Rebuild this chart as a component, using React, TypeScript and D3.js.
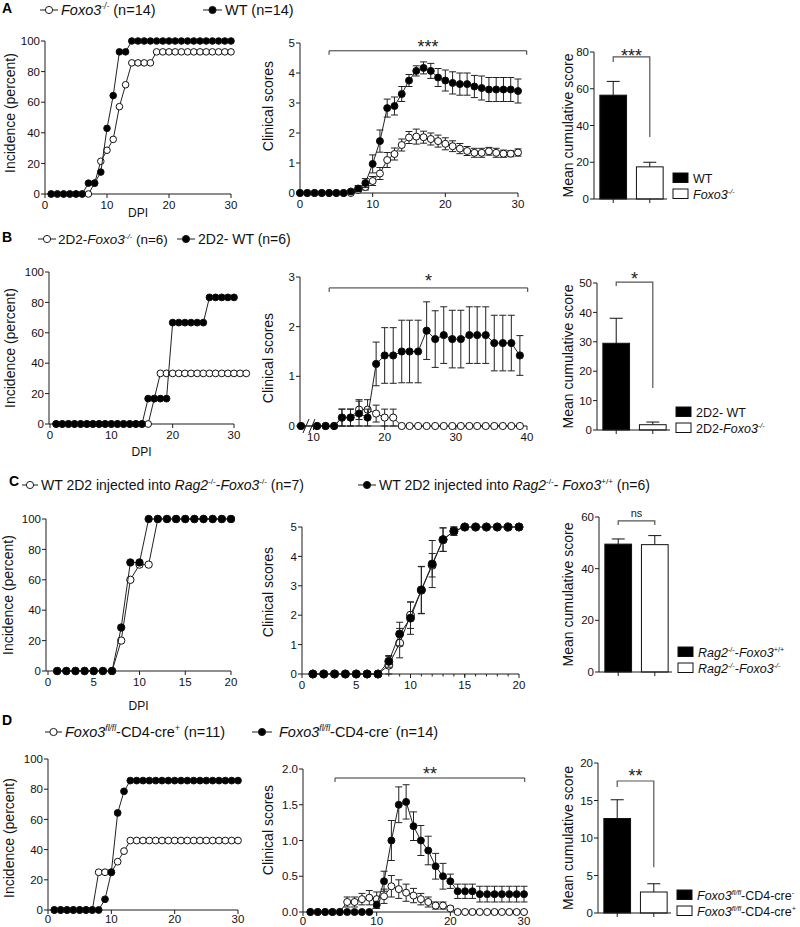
import React from "react";
import * as d3 from "d3";

const FONT = "'Liberation Sans', Arial, Helvetica, sans-serif";
const INK = "#1c1c1c";

// ---------- row A: Foxo3-/- vs WT ----------
const incDaysA = d3.range(1, 31);
const incA_Foxo3 = [0, 0, 0, 0, 0, 0, 0, 7.1, 21.4, 28.6, 35.7, 57.1, 71.4, 85.7, 85.7, 85.7, 85.7, 92.9, 92.9, 92.9, 92.9, 92.9, 92.9, 92.9, 92.9, 92.9, 92.9, 92.9, 92.9, 92.9];
const incA_WT = [0, 0, 0, 0, 0, 0, 7.1, 7.1, 14.3, 42.9, 64.3, 92.9, 92.9, 100, 100, 100, 100, 100, 100, 100, 100, 100, 100, 100, 100, 100, 100, 100, 100, 100];
const scoreDaysA = d3.range(0, 31);
const scoreA_WT = [0, 0, 0, 0, 0, 0, 0, 0.05, 0.15, 0.33, 0.97, 1.73, 2.83, 2.9, 3.3, 3.75, 4.07, 4.17, 4.07, 3.85, 3.75, 3.67, 3.63, 3.63, 3.55, 3.5, 3.45, 3.45, 3.45, 3.45, 3.4];
const semA_WT = [0, 0, 0, 0, 0, 0, 0, 0.05, 0.1, 0.15, 0.3, 0.37, 0.3, 0.3, 0.25, 0.2, 0.17, 0.2, 0.25, 0.3, 0.35, 0.37, 0.37, 0.37, 0.37, 0.4, 0.4, 0.4, 0.4, 0.4, 0.4];
const scoreA_Foxo3 = [0, 0, 0, 0, 0, 0, 0, 0, 0.1, 0.2, 0.4, 0.65, 1.1, 1.3, 1.6, 1.85, 1.88, 1.86, 1.8, 1.73, 1.64, 1.56, 1.48, 1.4, 1.34, 1.34, 1.39, 1.34, 1.31, 1.31, 1.35];
const semA_Foxo3 = [0, 0, 0, 0, 0, 0, 0, 0, 0.05, 0.1, 0.15, 0.2, 0.25, 0.2, 0.2, 0.2, 0.25, 0.2, 0.2, 0.2, 0.2, 0.18, 0.17, 0.15, 0.15, 0.15, 0.13, 0.15, 0.12, 0.1, 0.12];
const cumCatsA = ["WT", "Foxo3"];
const cumA = [56.5, 17.5];
const cumSemA = [7.5, 2.5];

// ---------- row B: 2D2 ----------
const incDaysB_WT = d3.range(1, 31);
const incB_WT = [0, 0, 0, 0, 0, 0, 0, 0, 0, 0, 0, 0, 0, 0, 0, 16.7, 16.7, 16.7, 16.7, 66.7, 66.7, 66.7, 66.7, 66.7, 66.7, 83.3, 83.3, 83.3, 83.3, 83.3];
const incDaysB_Foxo3 = d3.range(1, 33);
const incB_Foxo3 = [0, 0, 0, 0, 0, 0, 0, 0, 0, 0, 0, 0, 0, 0, 0, 0, 16.7, 33.3, 33.3, 33.3, 33.3, 33.3, 33.3, 33.3, 33.3, 33.3, 33.3, 33.3, 33.3, 33.3, 33.3, 33.3];
const scoreDaysB = [0, 10.5, 11.7, 12.9, 14.0, 15.2, 16.4, 17.6, 18.8, 20.0, 21.2, 22.4, 23.5, 24.7, 25.9, 27.1, 28.3, 29.5, 30.7, 31.9, 33.0, 34.2, 35.4, 36.6, 37.8, 39.0];
const scoreB_WT = [0, 0, 0, 0, 0.17, 0.17, 0.25, 0.17, 1.25, 1.42, 1.42, 1.5, 1.5, 1.5, 1.92, 1.75, 1.83, 1.75, 1.75, 1.83, 1.83, 1.83, 1.67, 1.67, 1.67, 1.42];
const semB_WT = [0, 0, 0, 0, 0.17, 0.17, 0.25, 0.17, 0.44, 0.56, 0.56, 0.63, 0.63, 0.63, 0.58, 0.57, 0.57, 0.58, 0.58, 0.57, 0.57, 0.57, 0.56, 0.56, 0.56, 0.4];
const scoreB_Foxo3 = [0, 0, 0, 0, 0.17, 0.17, 0.33, 0.33, 0.25, 0.17, 0.17, 0, 0, 0, 0, 0, 0, 0, 0, 0, 0, 0, 0, 0, 0, 0];
const semB_Foxo3 = [0, 0, 0, 0, 0.17, 0.17, 0.2, 0.2, 0.17, 0.17, 0.17, 0, 0, 0, 0, 0, 0, 0, 0, 0, 0, 0, 0, 0, 0, 0];
const cumCatsB = ["2D2- WT", "2D2-Foxo3"];
const cumB = [29.5, 1.8];
const cumSemB = [8.5, 0.9];

// ---------- row C: Rag2 transfer ----------
const incDaysC = d3.range(1, 21);
const incC_KO = [0, 0, 0, 0, 0, 0, 0, 20, 60, 70, 70, 100, 100, 100, 100, 100, 100, 100, 100, 100];
const incC_WT = [0, 0, 0, 0, 0, 0, 0, 28.6, 71.4, 71.4, 100, 100, 100, 100, 100, 100, 100, 100, 100, 100];
const scoreDaysC = d3.range(1, 21);
const scoreC_WT = [0, 0, 0, 0, 0, 0, 0, 0.43, 1.36, 1.9, 2.86, 3.74, 4.57, 4.86, 5, 5, 5, 5, 5, 5];
const semC_WT = [0, 0, 0, 0, 0, 0, 0, 0.2, 0.4, 0.55, 0.8, 0.8, 0.4, 0.14, 0, 0, 0, 0, 0, 0];
const scoreC_KO = [0, 0, 0, 0, 0, 0, 0, 0.3, 1.05, 2.0, 2.85, 3.7, 4.57, 4.86, 5, 5, 5, 5, 5, 5];
const semC_KO = [0, 0, 0, 0, 0, 0, 0, 0.3, 0.5, 0.45, 0.8, 0.4, 0.4, 0.14, 0, 0, 0, 0, 0, 0];
const cumCatsC = ["Foxo3+/+", "Foxo3-/-"];
const cumC = [49.5, 49.3];
const cumSemC = [2, 3.5];

// ---------- row D: CD4-cre ----------
const incDaysD = d3.range(1, 31);
const incD_pos = [0, 0, 0, 0, 0, 0, 0, 25, 25, 25, 32, 39, 46, 46, 46, 46, 46, 46, 46, 46, 46, 46, 46, 46, 46, 46, 46, 46, 46, 46];
const incD_neg = [0, 0, 0, 0, 0, 0, 0, 0, 7.1, 25, 64.3, 78.6, 85.7, 85.7, 85.7, 85.7, 85.7, 85.7, 85.7, 85.7, 85.7, 85.7, 85.7, 85.7, 85.7, 85.7, 85.7, 85.7, 85.7, 85.7];
const scoreDaysD = d3.range(1, 31);
const scoreD_neg = [0, 0, 0, 0, 0, 0, 0, 0, 0, 0.1, 0.43, 1.0, 1.5, 1.54, 1.2, 1.0, 0.86, 0.64, 0.5, 0.43, 0.29, 0.29, 0.29, 0.25, 0.25, 0.25, 0.25, 0.25, 0.25, 0.25];
const semD_neg = [0, 0, 0, 0, 0, 0, 0, 0, 0, 0.05, 0.14, 0.28, 0.25, 0.24, 0.2, 0.21, 0.2, 0.18, 0.18, 0.1, 0.1, 0.1, 0.1, 0.11, 0.11, 0.11, 0.11, 0.11, 0.11, 0.11];
const scoreD_pos = [0, 0, 0, 0, 0, 0.14, 0.14, 0.18, 0.2, 0.18, 0.22, 0.36, 0.32, 0.27, 0.23, 0.18, 0.14, 0.09, 0.09, 0.05, 0, 0, 0, 0, 0, 0, 0, 0, 0, 0];
const semD_pos = [0, 0, 0, 0, 0, 0.07, 0.07, 0.08, 0.1, 0.1, 0.1, 0.15, 0.13, 0.12, 0.1, 0.08, 0.07, 0.05, 0.05, 0.03, 0, 0, 0, 0, 0, 0, 0, 0, 0, 0];
const cumCatsD = ["cre-", "cre+"];
const cumD = [12.6, 2.8];
const cumSemD = [2.5, 1.1];

// ---------- text ----------
type Seg = { t: string; it?: boolean; sup?: boolean };
const legA_open: Seg[] = [{ t: "Foxo3", it: true }, { t: "-/-", sup: true, it: true }, { t: " (n=14)" }];
const legA_fill: Seg[] = [{ t: "WT (n=14)" }];
const legB_open: Seg[] = [{ t: "2D2-" }, { t: "Foxo3", it: true }, { t: "-/-", sup: true, it: true }, { t: " (n=6)" }];
const legB_fill: Seg[] = [{ t: "2D2- WT (n=6)" }];
const legC_open: Seg[] = [{ t: "WT 2D2 injected into " }, { t: "Rag2", it: true }, { t: "-/-", sup: true }, { t: "-" }, { t: "Foxo3", it: true }, { t: "-/-", sup: true }, { t: " (n=7)" }];
const legC_fill: Seg[] = [{ t: "WT 2D2 injected into " }, { t: "Rag2", it: true }, { t: "-/-", sup: true }, { t: "- " }, { t: "Foxo3", it: true }, { t: "+/+", sup: true }, { t: " (n=6)" }];
const legD_open: Seg[] = [{ t: "Foxo3", it: true }, { t: "fl/fl", sup: true, it: true }, { t: "-CD4-cre" }, { t: "+", sup: true }, { t: " (n=11)" }];
const legD_fill: Seg[] = [{ t: "Foxo3", it: true }, { t: "fl/fl", sup: true, it: true }, { t: "-CD4-cre" }, { t: "-", sup: true }, { t: " (n=14)" }];
const barLegA: Seg[][] = [[{ t: "WT" }], [{ t: "Foxo3", it: true }, { t: "-/-", sup: true, it: true }]];
const barLegB: Seg[][] = [[{ t: "2D2- WT" }], [{ t: "2D2-" }, { t: "Foxo3", it: true }, { t: "-/-", sup: true, it: true }]];
const barLegC: Seg[][] = [
  [{ t: "Rag2", it: true }, { t: "-/-", sup: true }, { t: "-" }, { t: "Foxo3", it: true }, { t: "+/+", sup: true }],
  [{ t: "Rag2", it: true }, { t: "-/-", sup: true, it: true }, { t: "-Foxo3", it: true }, { t: "-/-", sup: true, it: true }],
];
const barLegD: Seg[][] = [
  [{ t: "Foxo3", it: true }, { t: "fl/fl", sup: true, it: true }, { t: "-CD4-cre" }, { t: "-", sup: true }],
  [{ t: "Foxo3", it: true }, { t: "fl/fl", sup: true, it: true }, { t: "-CD4-cre" }, { t: "+", sup: true }],
];

// ---------- scales ----------
const xA1 = d3.scaleLinear().domain([0, 30]).range([45, 231]);
const yA1 = d3.scaleLinear().domain([0, 100]).range([194, 41]);
const xA2 = d3.scaleLinear().domain([0, 30]).range([300, 518]);
const yA2 = d3.scaleLinear().domain([0, 5]).range([193, 43]);
const yA3 = d3.scaleLinear().domain([0, 80]).range([199, 52]);

const xB1 = d3.scaleLinear().domain([0, 30]).range([50, 234]);
const yB1 = d3.scaleLinear().domain([0, 100]).range([424, 272]);
const xB2 = d3.scaleLinear().domain([0, 10, 40]).range([301, 313.5, 527]);
const yB2 = d3.scaleLinear().domain([0, 3]).range([426, 277]);
const yB3 = d3.scaleLinear().domain([0, 50]).range([430, 283]);

const xC1 = d3.scaleLinear().domain([0, 20]).range([48, 231]);
const yC1 = d3.scaleLinear().domain([0, 100]).range([671, 519]);
const xC2 = d3.scaleLinear().domain([0, 20]).range([302, 519]);
const yC2 = d3.scaleLinear().domain([0, 5]).range([674, 527]);
const yC3 = d3.scaleLinear().domain([0, 60]).range([672, 517]);

const xD1 = d3.scaleLinear().domain([0, 30]).range([48, 238]);
const yD1 = d3.scaleLinear().domain([0, 100]).range([910, 759]);
const xD2 = d3.scaleLinear().domain([0, 30]).range([303, 524]);
const yD2 = d3.scaleLinear().domain([0, 2]).range([912, 769]);
const yD3 = d3.scaleLinear().domain([0, 20]).range([913, 763]);

type Lin = d3.ScaleLinear<number, number>;

function Rich({ x, y, segs, size, anchor }: { x: number; y: number; segs: Seg[]; size: number; anchor?: string }) {
  let shift = 0;
  return (
    <text x={x} y={y} fontSize={size} textAnchor={anchor || "start"} fontFamily={FONT} fill="#111" style={{ whiteSpace: "pre" }}>
      {segs.map((s, k) => {
        const target = s.sup ? -size * 0.4 : 0;
        const dy = target - shift;
        shift = target;
        return (
          <tspan key={k} dy={dy} fontStyle={s.it ? "italic" : "normal"} fontSize={s.sup ? size * 0.58 : size}>
            {s.t}
          </tspan>
        );
      })}
    </text>
  );
}

function LegendItem({ x1, x2, y, open, segs, tx, size = 14.5 }: { x1: number; x2: number; y: number; open: boolean; segs: Seg[]; tx: number; size?: number }) {
  const my = y - 5;
  return (
    <g>
      <line x1={x1} x2={x2} y1={my} y2={my} stroke={INK} strokeWidth={1} />
      <circle cx={(x1 + x2) / 2} cy={my} r={3.6} fill={open ? "#fff" : "#000"} stroke={INK} strokeWidth={1} />
      <Rich x={tx} y={y} segs={segs} size={size} />
    </g>
  );
}

type Series = { xs: number[]; ys: number[]; err?: number[]; open: boolean };
type Bracket = { x1: number; x2: number; y: number; label: string; dy: number; size: number };

function LinePanel(p: {
  x: Lin; y: Lin; xTicks: number[]; yTicks: number[]; yFmt?: (v: number) => string;
  minor?: number[]; series: Series[]; title: string; titleX: number; titleY?: number;
  xTitle?: { text: string; y: number }; bracket?: Bracket; brk?: [number, number]; r?: number; axisX?: number;
  labelDy?: number;
}) {
  const axisX = p.axisX ?? p.x(0);
  const y0 = p.y(0);
  const yTop = p.y(p.yTicks[p.yTicks.length - 1]);
  const xEnd = p.x(p.xTicks[p.xTicks.length - 1]);
  const fmt = p.yFmt || ((v: number) => String(v));
  const r = p.r ?? 3.4;
  const labelDy = p.labelDy ?? 15;
  const line = d3.line<[number, number]>().x((d) => p.x(d[0])).y((d) => p.y(d[1]));
  const titleY = p.titleY ?? (y0 + yTop) / 2;
  return (
    <g fontFamily={FONT}>
      {/* y axis */}
      <line x1={axisX} x2={axisX} y1={y0} y2={yTop} stroke={INK} />
      {p.yTicks.map((t) => (
        <g key={"y" + t}>
          <line x1={axisX - 4} x2={axisX} y1={p.y(t)} y2={p.y(t)} stroke={INK} />
          <text x={axisX - 5} y={p.y(t)} dy="0.36em" textAnchor="end" fontSize={11.5} fill="#111">{fmt(t)}</text>
        </g>
      ))}
      {/* x axis */}
      {p.brk ? (
        <g>
          <line x1={axisX} x2={p.brk[0]} y1={y0} y2={y0} stroke={INK} />
          <line x1={p.brk[1]} x2={xEnd} y1={y0} y2={y0} stroke={INK} />
          <line x1={p.brk[0] - 3} x2={p.brk[0] + 3} y1={y0 + 7} y2={y0 - 7} stroke={INK} />
          <line x1={p.brk[1] - 3} x2={p.brk[1] + 3} y1={y0 + 7} y2={y0 - 7} stroke={INK} />
        </g>
      ) : (
        <line x1={axisX} x2={xEnd} y1={y0} y2={y0} stroke={INK} />
      )}
      {(p.minor || []).map((t) => (
        <line key={"m" + t} x1={p.x(t)} x2={p.x(t)} y1={y0} y2={y0 + 2.5} stroke={INK} />
      ))}
      {p.xTicks.map((t) => (
        <g key={"x" + t}>
          <line x1={p.x(t)} x2={p.x(t)} y1={y0} y2={y0 + 4} stroke={INK} />
          <text x={p.x(t)} y={y0 + labelDy} textAnchor="middle" fontSize={11.5} fill="#111">{t}</text>
        </g>
      ))}
      <text transform={`translate(${p.titleX},${titleY}) rotate(-90)`} textAnchor="middle" fontSize={14} fill="#111">{p.title}</text>
      {p.xTitle && <text x={(axisX + xEnd) / 2} y={p.xTitle.y} textAnchor="middle" fontSize={12} fill="#111">{p.xTitle.text}</text>}
      {/* series */}
      {p.series.map((s, si) => {
        const pts = d3.zip(s.xs, s.ys) as [number, number][];
        return (
          <g key={si}>
            {s.err && pts.map((d, i) => {
              const e = s.err![i];
              if (!e) return null;
              const cx = p.x(d[0]);
              const lo = p.y(Math.max(0, d[1] - e));
              const hi = p.y(d[1] + e);
              return (
                <g key={"e" + i} stroke="#222" strokeWidth={1}>
                  <line x1={cx} x2={cx} y1={lo} y2={hi} />
                  <line x1={cx - 3.5} x2={cx + 3.5} y1={hi} y2={hi} />
                  <line x1={cx - 3.5} x2={cx + 3.5} y1={lo} y2={lo} />
                </g>
              );
            })}
            <path d={line(pts) || ""} fill="none" stroke="#222" strokeWidth={1} />
            {pts.map((d, i) => (
              <circle key={i} cx={p.x(d[0])} cy={p.y(d[1])} r={r} fill={s.open ? "#fff" : "#000"} stroke="#111" strokeWidth={1} />
            ))}
          </g>
        );
      })}
      {p.bracket && (
        <g>
          <path
            d={`M${p.x(p.bracket.x1)},${p.y(p.bracket.y) + 4}V${p.y(p.bracket.y)}H${p.x(p.bracket.x2)}V${p.y(p.bracket.y) + 4}`}
            fill="none" stroke="#333" strokeWidth={1}
          />
          <text x={(p.x(p.bracket.x1) + p.x(p.bracket.x2)) / 2} y={p.y(p.bracket.y) + p.bracket.dy} textAnchor="middle" fontSize={p.bracket.size} fill="#222">{p.bracket.label}</text>
        </g>
      )}
    </g>
  );
}

function BarPanel(p: {
  axisX: number; y: Lin; yTicks: number[]; cats: string[]; values: number[]; errs: number[];
  titleY?: number; bracket: { top: number; left: number; right: number; label: string; size: number; dy: number };
  legend: Seg[][]; legendTop: number;
}) {
  const xb = d3.scaleBand<string>().domain(p.cats).range([p.axisX, p.axisX + 75]).paddingInner(0.27).paddingOuter(0.16);
  const y0 = p.y(0);
  const yTop = p.y(p.yTicks[p.yTicks.length - 1]);
  const cx = (c: string) => (xb(c) as number) + xb.bandwidth() / 2;
  const fills = ["#000", "#fff"];
  const b = p.bracket;
  const bx1 = cx(p.cats[0]);
  const bx2 = cx(p.cats[1]);
  const titleY = p.titleY ?? (y0 + yTop) / 2;
  return (
    <g fontFamily={FONT}>
      {p.cats.map((c, i) => {
        const v = p.values[i];
        const hi = p.y(v + p.errs[i]);
        return (
          <g key={c}>
            <line x1={cx(c)} x2={cx(c)} y1={p.y(v)} y2={hi} stroke="#111" />
            <line x1={cx(c) - 6.5} x2={cx(c) + 6.5} y1={hi} y2={hi} stroke="#111" />
            <rect x={xb(c)} y={p.y(v)} width={xb.bandwidth()} height={y0 - p.y(v)} fill={fills[i]} stroke="#111" strokeWidth={1} />
            <line x1={cx(c)} x2={cx(c)} y1={y0} y2={y0 + 4} stroke={INK} />
          </g>
        );
      })}
      <line x1={p.axisX} x2={p.axisX + 73} y1={y0} y2={y0} stroke={INK} />
      <line x1={p.axisX} x2={p.axisX} y1={y0} y2={yTop} stroke={INK} />
      {p.yTicks.map((t) => (
        <g key={t}>
          <line x1={p.axisX - 4} x2={p.axisX} y1={p.y(t)} y2={p.y(t)} stroke={INK} />
          <text x={p.axisX - 5} y={p.y(t)} dy="0.36em" textAnchor="end" fontSize={11.5} fill="#111">{t}</text>
        </g>
      ))}
      <text transform={`translate(573,${titleY}) rotate(-90)`} textAnchor="middle" fontSize={14} fill="#111">Mean cumulative score</text>
      <path d={`M${bx1},${p.y(b.left)}V${p.y(b.top)}H${bx2}V${p.y(b.right)}`} fill="none" stroke="#555" strokeWidth={1.2} />
      <text x={(bx1 + bx2) / 2} y={p.y(b.top) + b.dy} textAnchor="middle" fontSize={b.size} fill="#222">{b.label}</text>
      {p.legend.map((segs, i) => (
        <g key={i}>
          <rect x={p.axisX + 79} y={p.legendTop + i * 16} width={15} height={9.5} fill={fills[i]} stroke="#111" />
          <Rich x={p.axisX + 99} y={p.legendTop + i * 16 + 9.5} segs={segs} size={12.5} />
        </g>
      ))}
    </g>
  );
}

function Letter({ x, y, t }: { x: number; y: number; t: string }) {
  return <text x={x} y={y} fontFamily={FONT} fontWeight="bold" fontSize={14} fill="#000">{t}</text>;
}

export default function App() {
  return (
    <svg width={800} height={927} viewBox="0 0 800 927" style={{ position: "absolute", left: 0, top: 0, background: "#fff" }}>
      <rect width={800} height={927} fill="#fff" />
      {/* ---------- A ---------- */}
      <Letter x={2} y={13} t="A" />
      <LegendItem x1={40} x2={58} y={15} open={true} segs={legA_open} tx={61} />
      <LegendItem x1={203} x2={222} y={15} open={false} segs={legA_fill} tx={225} />
      <LinePanel x={xA1} y={yA1} xTicks={[0, 10, 20, 30]} yTicks={[0, 20, 40, 60, 80, 100]}
        series={[{ xs: incDaysA, ys: incA_Foxo3, open: true }, { xs: incDaysA, ys: incA_WT, open: false }]}
        title="Incidence (percent)" titleX={15} titleY={113} xTitle={{ text: "DPI", y: 217 }} r={3.3} />
      <LinePanel x={xA2} y={yA2} xTicks={[0, 10, 20, 30]} yTicks={[0, 1, 2, 3, 4, 5]}
        series={[{ xs: scoreDaysA, ys: scoreA_Foxo3, err: semA_Foxo3, open: true }, { xs: scoreDaysA, ys: scoreA_WT, err: semA_WT, open: false }]}
        title="Clinical scores" titleX={273} titleY={106} r={3.5}
        bracket={{ x1: 4, x2: 31.2, y: 4.74, label: "***", dy: 1.7, size: 18 }} />
      <BarPanel axisX={594} y={yA3} yTicks={[0, 20, 40, 60, 80]} cats={cumCatsA} values={cumA} errs={cumSemA}
        bracket={{ top: 77.4, left: 74.5, right: 33.7, label: "***", size: 18, dy: 5.7 }} legend={barLegA} legendTop={173} />

      {/* ---------- B ---------- */}
      <Letter x={2} y={242} t="B" />
      <LegendItem x1={38} x2={56} y={244} open={true} segs={legB_open} tx={58} size={13.5} />
      <LegendItem x1={177} x2={195} y={244} open={false} segs={legB_fill} tx={198} size={14} />
      <LinePanel x={xB1} y={yB1} xTicks={[0, 10, 20, 30]} yTicks={[0, 20, 40, 60, 80, 100]} axisX={49}
        series={[{ xs: incDaysB_Foxo3, ys: incB_Foxo3, open: true }, { xs: incDaysB_WT, ys: incB_WT, open: false }]}
        title="Incidence (percent)" titleX={15} xTitle={{ text: "DPI", y: 456 }} r={3.4} />
      <LinePanel x={xB2} y={yB2} xTicks={[10, 20, 30, 40]} yTicks={[0, 1, 2, 3]} axisX={300} brk={[306, 312]}
        series={[{ xs: scoreDaysB, ys: scoreB_Foxo3, err: semB_Foxo3, open: true }, { xs: scoreDaysB, ys: scoreB_WT, err: semB_WT, open: false }]}
        title="Clinical scores" titleX={273} titleY={358} r={3.6}
        bracket={{ x1: 12.2, x2: 40.1, y: 2.78, label: "*", dy: -0.6, size: 18 }} />
      <BarPanel axisX={597} y={yB3} yTicks={[0, 10, 20, 30, 40, 50]} cats={cumCatsB} values={cumB} errs={cumSemB}
        bracket={{ top: 50.3, left: 49, right: 14.3, label: "*", size: 18, dy: 3 }} legend={barLegB} legendTop={407} />

      {/* ---------- C ---------- */}
      <Letter x={9} y={486} t="C" />
      <LegendItem x1={22} x2={38} y={490} open={true} segs={legC_open} tx={41} size={14} />
      <LegendItem x1={358} x2={376} y={490} open={false} segs={legC_fill} tx={379} size={14} />
      <LinePanel x={xC1} y={yC1} xTicks={[0, 5, 10, 15, 20]} yTicks={[0, 20, 40, 60, 80, 100]} axisX={46}
        series={[{ xs: incDaysC, ys: incC_KO, open: true }, { xs: incDaysC, ys: incC_WT, open: false }]}
        title="Incidence (percent)" titleX={13} xTitle={{ text: "DPI", y: 710 }} r={3.7} />
      <LinePanel x={xC2} y={yC2} xTicks={[0, 5, 10, 15, 20]} yTicks={[0, 1, 2, 3, 4, 5]} minor={d3.range(1, 20)}
        series={[{ xs: scoreDaysC, ys: scoreC_KO, err: semC_KO, open: true }, { xs: scoreDaysC, ys: scoreC_WT, err: semC_WT, open: false }]}
        title="Clinical scores" titleX={273} titleY={592} r={4} />
      <BarPanel axisX={599} y={yC3} yTicks={[0, 20, 40, 60]} cats={cumCatsC} values={cumC} errs={cumSemC}
        bracket={{ top: 58.5, left: 56.9, right: 56.9, label: "ns", size: 11, dy: -3.5 }} legend={barLegC} legendTop={647} />

      {/* ---------- D ---------- */}
      <Letter x={2} y={725} t="D" />
      <LegendItem x1={45} x2={62} y={737} open={true} segs={legD_open} tx={65} />
      <LegendItem x1={252} x2={272} y={737} open={false} segs={legD_fill} tx={279} />
      <LinePanel x={xD1} y={yD1} xTicks={[0, 10, 20, 30]} yTicks={[0, 20, 40, 60, 80, 100]} labelDy={13}
        series={[{ xs: incDaysD, ys: incD_pos, open: true }, { xs: incDaysD, ys: incD_neg, open: false }]}
        title="Incidence (percent)" titleX={14} titleY={838} r={3.4} />
      <LinePanel x={xD2} y={yD2} xTicks={[0, 10, 20, 30]} yTicks={[0, 0.5, 1, 1.5, 2]} yFmt={(v) => v.toFixed(1)} labelDy={12.5}
        series={[{ xs: scoreDaysD, ys: scoreD_pos, err: semD_pos, open: true }, { xs: scoreDaysD, ys: scoreD_neg, err: semD_neg, open: false }]}
        title="Clinical scores" titleX={273} titleY={830} r={3.5}
        bracket={{ x1: 4.35, x2: 30.1, y: 1.874, label: "**", dy: 1.9, size: 18 }} />
      <BarPanel axisX={598} y={yD3} yTicks={[0, 5, 10, 15, 20]} cats={cumCatsD} values={cumD} errs={cumSemD}
        bracket={{ top: 17.6, left: 16.8, right: 6.1, label: "**", size: 18, dy: 1 }} legend={barLegD} legendTop={890} />
    </svg>
  );
}
